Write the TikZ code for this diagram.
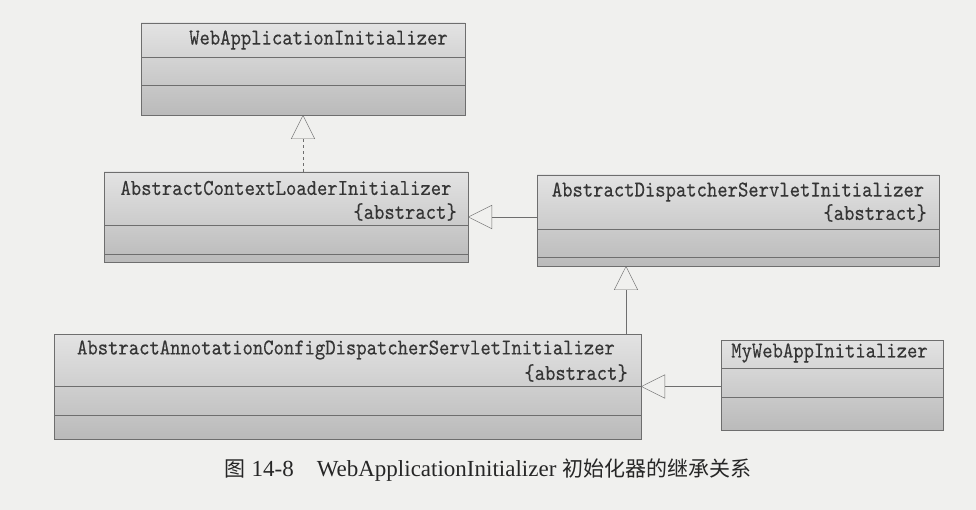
\documentclass[tikz,border=0pt]{standalone}
\usepackage{fontspec}
\setmainfont{Liberation Serif}
\newfontfamily\cjk{Noto Sans CJK SC}
\newfontfamily\classfont[FakeBold=0.3]{lmmono10-regular.otf}
\usetikzlibrary{arrows.meta}
\definecolor{scanbg}{HTML}{F0F0EE}
\definecolor{boxline}{HTML}{6E6E6E}
\definecolor{boxtext}{HTML}{353535}
\tikzset{
  classbox/.style={draw=boxline, inner sep=0pt, outer sep=0pt, top color=black!11, bottom color=black!27},
  classname/.style={text=boxtext, inner sep=0pt, yscale=1.15, font=\fontsize{19.7}{22}\selectfont\classfont},
  part/.style={draw=boxline},
  inherit/.style={draw=boxline, -{Triangle[open, length=24pt, width=24pt]}},
}

\begin{document}
\begin{tikzpicture}[x=1pt, y=-1pt]
  \useasboundingbox (0,0) rectangle (976,510);
  \fill[scanbg] (0,0) rectangle (976,510);

  % classes
  \node[classbox, minimum width=324pt, minimum height=92pt] (wai) at (303,69) {};
  \node[classbox, minimum width=364pt, minimum height=90pt] (acli) at (286,217) {};
  \node[classbox, minimum width=402pt, minimum height=91pt] (adsi) at (738,220.5) {};
  \node[classbox, minimum width=587pt, minimum height=105pt] (aacdsi) at (347.5,386.5) {};
  \node[classbox, minimum width=222pt, minimum height=90pt] (mwai) at (832,385) {};

  % compartments
  \foreach \b/\d in {wai/34, wai/62, acli/53, acli/82, adsi/54, adsi/82,
                     aacdsi/52, aacdsi/81, mwai/28, mwai/57}
    \draw[part] ([yshift=-\d pt]\b.north west) -- ([yshift=-\d pt]\b.north east);

  % names
  \node[classname] (waiName) at ([xshift=15.5pt, yshift=-17pt]wai.north) {WebApplicationInitializer};
  \node[classname] (acliName) at ([yshift=-16pt]acli.north) {AbstractContextLoaderInitializer};
  \node[classname, anchor=east] (acliAbs) at ([xshift=-11pt, yshift=-40pt]acli.north east) {\{abstract\}};
  \node[classname] (adsiName) at ([yshift=-17pt]adsi.north) {AbstractDispatcherServletInitializer};
  \node[classname, anchor=east] (adsiAbs) at ([xshift=-12pt, yshift=-38pt]adsi.north east) {\{abstract\}};
  \node[classname] (aacdsiName) at ([xshift=-1.5pt, yshift=-16pt]aacdsi.north) {AbstractAnnotationConfigDispatcherServletInitializer};
  \node[classname, anchor=east] (aacdsiAbs) at ([xshift=-13pt, yshift=-39pt]aacdsi.north east) {\{abstract\}};
  \node[classname] (mwaiName) at ([xshift=-2.5pt, yshift=-13pt]mwai.north) {MyWebAppInitializer};

  % inheritance
  \draw[inherit, dash pattern=on 3pt off 3pt] (wai.south |- acli.north) -- (wai.south);
  \draw[inherit] (adsi.west |- acli.east) -- (acli.east);
  \coordinate (adsiFoot) at ([xshift=89pt]adsi.south west);
  \draw[inherit] (aacdsi.north -| adsiFoot) -- (adsiFoot);
  \draw[inherit] (mwai.west |- aacdsi.east) -- (aacdsi.east);

  \node[font=\fontsize{23}{26}\selectfont, text=black!85] (caption) at (488,470)
    {{\cjk\fontsize{21}{26}\selectfont 图} 14-8\quad WebApplicationInitializer {\cjk\fontsize{21}{26}\selectfont 初始化器的继承关系}};
\end{tikzpicture}
\end{document}
